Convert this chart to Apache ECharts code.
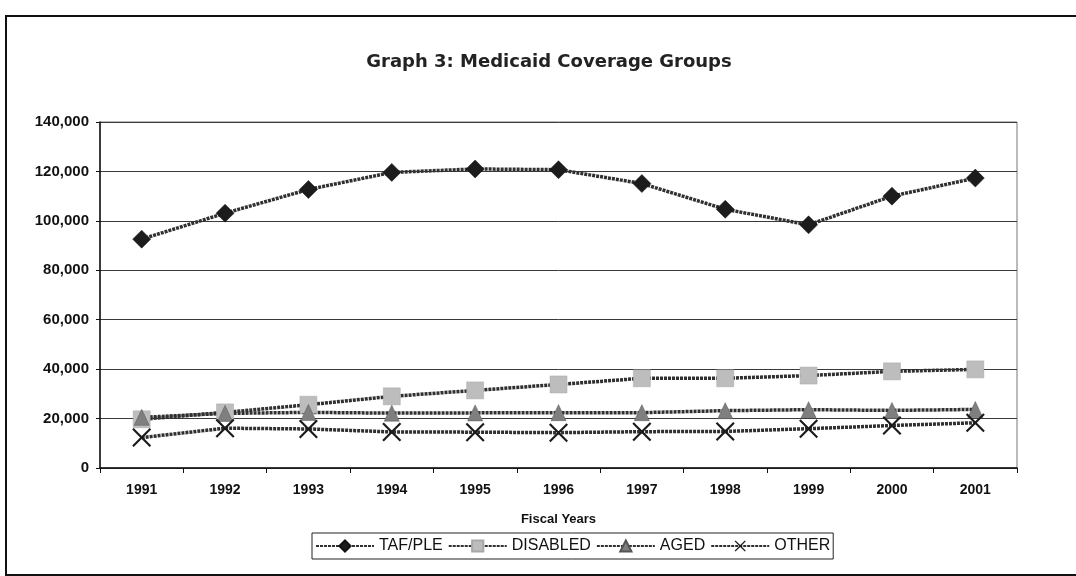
<!DOCTYPE html>
<html>
<head>
<meta charset="utf-8">
<title>Graph 3: Medicaid Coverage Groups</title>
<script src="https://cdn.jsdelivr.net/npm/echarts@6/dist/echarts.min.js"></script>
<style>
  html, body { margin: 0; padding: 0; background: #ffffff; }
  #chart { width: 1076px; height: 576px; }
</style>
</head>
<body>
<div id="chart"></div>
<script>
// Fiscal years on the category axis
const years = ['1991', '1992', '1993', '1994', '1995', '1996', '1997', '1998', '1999', '2000', '2001'];

// Medicaid eligibles by coverage group
const tafPle   = [92600, 103100, 112700, 119600, 121000, 120700, 115100, 104700, 98400, 110000, 117300];
const disabled = [19700, 22500, 25600, 29000, 31400, 33800, 36300, 36300, 37400, 39100, 39900];
const aged     = [20500, 22100, 22500, 22200, 22300, 22400, 22400, 23200, 23600, 23300, 23700];
const other    = [12300, 16100, 15800, 14600, 14500, 14300, 14700, 14800, 15900, 17200, 18300];

const seriesNames = ['TAF/PLE', 'DISABLED', 'AGED', 'OTHER'];

// value axis range
const yMin = 0;
const yMax = 140000;
const yStep = 20000;

const chart = echarts.init(document.getElementById('chart'), null, { renderer: 'canvas' });

// thin "X" marker
const crossPath = 'path://M0,1.6 L1.6,0 L10,8.4 L18.4,0 L20,1.6 L11.6,10 L20,18.4 L18.4,20 L10,11.6 L1.6,20 L0,18.4 L8.4,10 Z';

// dotted chain look of the connecting lines
const chainLine = { color: '#303030', width: 3.5, type: [3, 1] };

function lineSeries(name, data, symbol, size, itemStyle) {
  return {
    name: name,
    type: 'line',
    data: data,
    symbol: symbol,
    symbolSize: size,
    showAllSymbol: true,
    lineStyle: chainLine,
    itemStyle: itemStyle,
    emphasis: { disabled: true }
  };
}

chart.setOption({
  animation: false,
  backgroundColor: '#ffffff',
  graphic: [
    {
      type: 'rect',
      shape: { x: 6, y: 16, width: 1200, height: 559 },
      style: { fill: 'none', stroke: '#111', lineWidth: 2 },
      silent: true
    },
    {
      type: 'text',
      x: 549,
      y: 62,
      style: {
        text: 'Graph 3: Medicaid Coverage Groups',
        font: 'bold 18px "DejaVu Sans"',
        fill: '#222',
        textAlign: 'center',
        textVerticalAlign: 'middle'
      },
      silent: true
    }
  ],
  grid: {
    left: 100,
    right: 59,
    top: 122,
    bottom: 108,
    show: true,
    borderColor: '#777',
    borderWidth: 1,
    backgroundColor: 'transparent'
  },
  legend: {
    data: seriesNames,
    left: 312,
    top: 533,
    itemWidth: 58,
    itemHeight: 14,
    itemGap: 5,
    padding: [5, 3],
    borderColor: '#222',
    borderWidth: 1,
    backgroundColor: '#fff',
    textStyle: { fontFamily: '"Liberation Sans", Arial, sans-serif', fontSize: 16, color: '#111' }
  },
  xAxis: {
    type: 'category',
    data: years,
    boundaryGap: true,
    name: 'Fiscal Years',
    nameLocation: 'middle',
    nameGap: 45,
    nameTextStyle: { fontFamily: '"Liberation Sans", Arial, sans-serif', fontSize: 13, fontWeight: 'bold', color: '#111' },
    axisLine: { lineStyle: { color: '#111', width: 1.5 } },
    axisTick: { show: true, length: 5, lineStyle: { color: '#111' } },
    axisLabel: { margin: 15, fontFamily: '"Liberation Sans", Arial, sans-serif', fontSize: 14, fontWeight: 'bold', color: '#111' },
    splitLine: { show: false }
  },
  yAxis: {
    type: 'value',
    min: yMin,
    max: yMax,
    interval: yStep,
    axisLine: { show: true, lineStyle: { color: '#111', width: 1.5 } },
    axisTick: { show: true, length: 4, lineStyle: { color: '#111' } },
    axisLabel: {
      margin: 11,
      fontFamily: '"Liberation Sans", Arial, sans-serif',
      fontSize: 15,
      fontWeight: 'bold',
      color: '#111',
      formatter: function (v) { return v.toLocaleString('en-US'); }
    },
    splitLine: { show: true, lineStyle: { color: '#3a3a3a', width: 1 } }
  },
  series: [
    lineSeries('TAF/PLE', tafPle, 'diamond', [18, 18], { color: '#1c1c1c', borderColor: '#111', borderWidth: 0.5 }),
    lineSeries('DISABLED', disabled, 'rect', [17, 17], { color: '#bdbdbd', borderColor: '#a8a8a8', borderWidth: 0.5 }),
    lineSeries('AGED', aged, 'triangle', [15, 16], { color: '#7f7f7f', borderColor: '#555', borderWidth: 0.5 }),
    lineSeries('OTHER', other, crossPath, [19, 19], { color: '#1a1a1a' })
  ]
});
</script>
</body>
</html>
